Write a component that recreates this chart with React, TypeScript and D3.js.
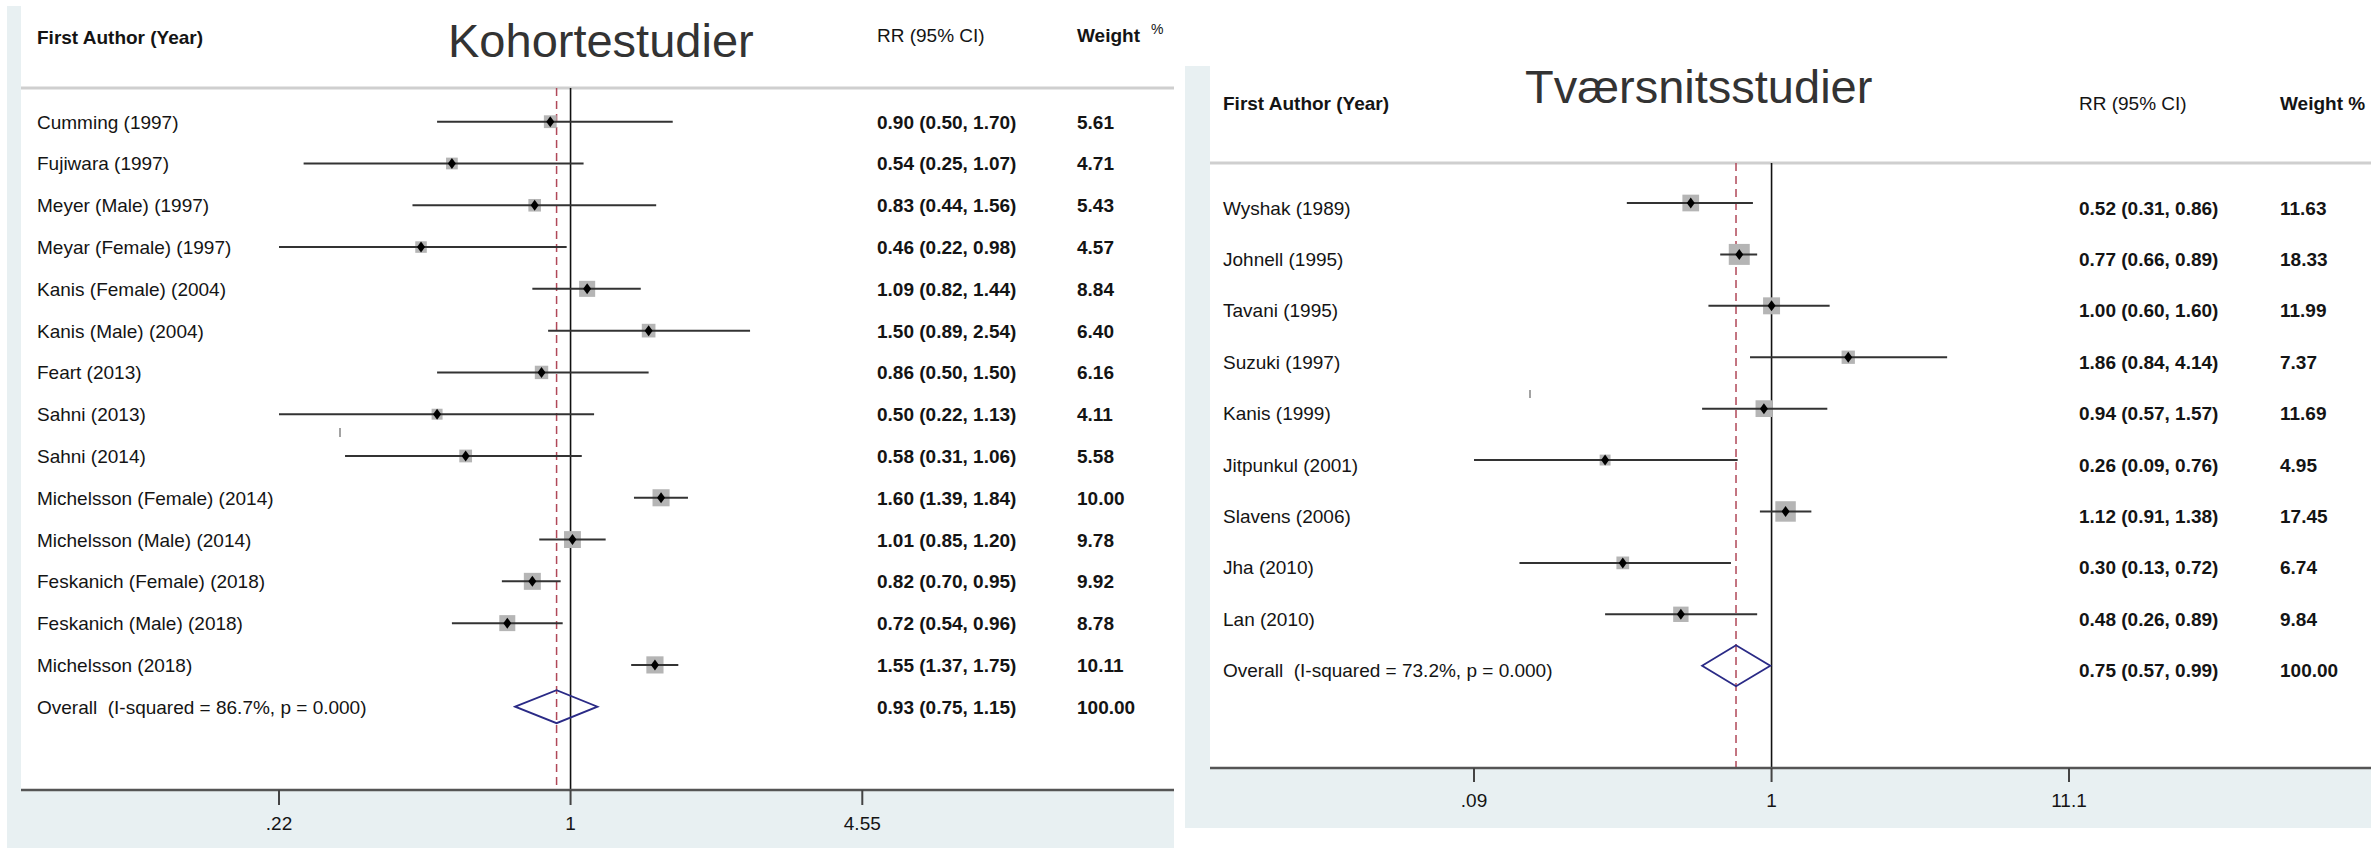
import React from "react";
import * as d3 from "d3";

// ---------- Data: Kohortestudier ----------
const cohortTitle = "Kohortestudier";
const cohortStudies = [
  "Cumming (1997)", "Fujiwara (1997)", "Meyer (Male) (1997)", "Meyar (Female) (1997)",
  "Kanis (Female) (2004)", "Kanis (Male) (2004)", "Feart (2013)", "Sahni (2013)",
  "Sahni (2014)", "Michelsson (Female) (2014)", "Michelsson (Male) (2014)",
  "Feskanich (Female) (2018)", "Feskanich (Male) (2018)", "Michelsson (2018)",
];
const cohortRR = [0.90, 0.54, 0.83, 0.46, 1.09, 1.50, 0.86, 0.50, 0.58, 1.60, 1.01, 0.82, 0.72, 1.55];
const cohortLo = [0.50, 0.25, 0.44, 0.22, 0.82, 0.89, 0.50, 0.22, 0.31, 1.39, 0.85, 0.70, 0.54, 1.37];
const cohortHi = [1.70, 1.07, 1.56, 0.98, 1.44, 2.54, 1.50, 1.13, 1.06, 1.84, 1.20, 0.95, 0.96, 1.75];
const cohortWeight = [5.61, 4.71, 5.43, 4.57, 8.84, 6.40, 6.16, 4.11, 5.58, 10.00, 9.78, 9.92, 8.78, 10.11];
const cohortOverall = { label: "Overall  (I-squared = 86.7%, p = 0.000)", rr: 0.93, lo: 0.75, hi: 1.15, weight: 100.0 };
const cohortTicks = [0.22, 1, 4.55];
const cohortTickLabels = [".22", "1", "4.55"];

// ---------- Data: Tværsnitsstudier ----------
const crossTitle = "Tværsnitsstudier";
const crossStudies = [
  "Wyshak (1989)", "Johnell (1995)", "Tavani (1995)", "Suzuki (1997)", "Kanis (1999)",
  "Jitpunkul (2001)", "Slavens (2006)", "Jha (2010)", "Lan (2010)",
];
const crossRR = [0.52, 0.77, 1.00, 1.86, 0.94, 0.26, 1.12, 0.30, 0.48];
const crossLo = [0.31, 0.66, 0.60, 0.84, 0.57, 0.09, 0.91, 0.13, 0.26];
const crossHi = [0.86, 0.89, 1.60, 4.14, 1.57, 0.76, 1.38, 0.72, 0.89];
const crossWeight = [11.63, 18.33, 11.99, 7.37, 11.69, 4.95, 17.45, 6.74, 9.84];
const crossOverall = { label: "Overall  (I-squared = 73.2%, p = 0.000)", rr: 0.75, lo: 0.57, hi: 0.99, weight: 100.0 };
const crossTicks = [0.09, 1, 11.1];
const crossTickLabels = [".09", "1", "11.1"];

const FONT = "'Liberation Sans', Arial, Helvetica, sans-serif";
const BG = "#e8f0f2";
const TXT = "#141414";

type PanelProps = {
  title: string;
  studies: string[];
  rr: number[];
  lo: number[];
  hi: number[];
  weight: number[];
  overall: { label: string; rr: number; lo: number; hi: number; weight: number };
  ticks: number[];
  tickLabels: string[];
  layout: {
    frameX: number; frameY: number; frameR: number; frameB: number;
    innerX: number; axisY: number; headerLineY: number;
    xRange: [number, number];
    rowFirst: number; rowLast: number;
    labelX: number; rrX: number; wX: number;
    headerY: number; rrHeaderY: number; wHeaderY: number;
    titleX: number; titleY: number;
    boxK: number; tickLabelY: number; tickLen: number;
    splitPercent: boolean;
    stray: [number, number, number];
    textDy: number; diamondH: number;
  };
};

function Panel(p: PanelProps) {
  const L = p.layout;
  const x = d3.scaleLog().domain([p.ticks[0], p.ticks[p.ticks.length - 1]]).range(L.xRange);
  const n = p.studies.length;
  const y = d3.scaleLinear().domain([0, n]).range([L.rowFirst, L.rowLast]);
  const fmt = d3.format(".2f");
  const ciText = (r: number, a: number, b: number) => `${fmt(r)} (${fmt(a)}, ${fmt(b)})`;
  const oy = y(n);
  const ox = x(p.overall.rr);
  const dh = L.diamondH;
  const diamond = `M${x(p.overall.lo)},${oy} L${ox},${oy - dh} L${x(p.overall.hi)},${oy} L${ox},${oy + dh} Z`;
  const td = L.textDy;

  return (
    <g fontFamily={FONT}>
      <rect x={L.frameX} y={L.frameY} width={L.frameR - L.frameX} height={L.frameB - L.frameY} fill={BG} />
      <rect x={L.innerX} y={L.frameY} width={L.frameR - L.innerX} height={L.axisY - L.frameY} fill="#ffffff" />
      {/* header line */}
      <line x1={L.innerX} x2={L.frameR} y1={L.headerLineY} y2={L.headerLineY} stroke="#cfcfcf" strokeWidth={3} />
      {/* headers */}
      <text x={L.labelX} y={L.headerY} fontSize={19} fontWeight="bold" fill={TXT}>First Author (Year)</text>
      <text x={L.rrX} y={L.rrHeaderY} fontSize={19} fill={TXT}>RR (95% CI)</text>
      {L.splitPercent ? (
        <g>
          <text x={L.wX} y={L.wHeaderY} fontSize={19} fontWeight="bold" fill={TXT}>Weight</text>
          <text x={L.wX + 74} y={L.wHeaderY - 8} fontSize={14} fill={TXT}>%</text>
        </g>
      ) : (
        <text x={L.wX} y={L.wHeaderY} fontSize={19} fontWeight="bold" fill={TXT}>Weight %</text>
      )}
      <text x={L.titleX} y={L.titleY} fontSize={47} fill="#333333">{p.title}</text>

      {/* reference lines */}
      <line x1={x(1)} x2={x(1)} y1={L.headerLineY} y2={L.axisY} stroke="#111" strokeWidth={1.6} />
      <line x1={ox} x2={ox} y1={L.headerLineY} y2={L.axisY} stroke="#b04858" strokeWidth={1.5} strokeDasharray="8,5" />

      {/* studies */}
      {p.studies.map((s, i) => {
        const cy = y(i);
        const side = L.boxK * Math.sqrt(p.weight[i]);
        const cx = x(p.rr[i]);
        return (
          <g key={s}>
            <text x={L.labelX} y={cy + td} fontSize={19} fill={TXT}>{s}</text>
            <rect x={cx - side / 2} y={cy - side / 2} width={side} height={side} fill="#b5b5b5" />
            <line x1={x(p.lo[i])} x2={x(p.hi[i])} y1={cy} y2={cy} stroke="#333" strokeWidth={2} />
            <path d={`M${cx - 4},${cy} L${cx},${cy - 5.5} L${cx + 4},${cy} L${cx},${cy + 5.5} Z`} fill="#000" />
            <text x={L.rrX} y={cy + td} fontSize={19} fontWeight="bold" fill={TXT}>{ciText(p.rr[i], p.lo[i], p.hi[i])}</text>
            <text x={L.wX} y={cy + td} fontSize={19} fontWeight="bold" fill={TXT}>{fmt(p.weight[i])}</text>
          </g>
        );
      })}

      {/* overall */}
      <text x={L.labelX} y={oy + td} fontSize={19} fill={TXT} style={{ whiteSpace: "pre" }}>{p.overall.label}</text>
      <path d={diamond} fill="none" stroke="#2a2a86" strokeWidth={1.8} />
      <text x={L.rrX} y={oy + td} fontSize={19} fontWeight="bold" fill={TXT}>{ciText(p.overall.rr, p.overall.lo, p.overall.hi)}</text>
      <text x={L.wX} y={oy + td} fontSize={19} fontWeight="bold" fill={TXT}>{fmt(p.overall.weight)}</text>

      {/* stray mark */}
      <line x1={L.stray[0]} x2={L.stray[0]} y1={L.stray[1]} y2={L.stray[2]} stroke="#666" strokeWidth={1.2} />

      {/* axis */}
      <line x1={L.innerX} x2={L.frameR} y1={L.axisY} y2={L.axisY} stroke="#555" strokeWidth={2.5} />
      {p.ticks.map((t, i) => (
        <g key={t}>
          <line x1={x(t)} x2={x(t)} y1={L.axisY} y2={L.axisY + L.tickLen} stroke="#444" strokeWidth={2} />
          <text x={x(t)} y={L.tickLabelY} fontSize={19} textAnchor="middle" fill={TXT}>{p.tickLabels[i]}</text>
        </g>
      ))}
    </g>
  );
}

export default function App() {
  return (
    <svg width={2371} height={848} style={{ position: "absolute", left: 0, top: 0, background: "#fff" }}>
      <rect x={0} y={0} width={2371} height={848} fill="#fff" />
      <Panel
        title={cohortTitle}
        studies={cohortStudies}
        rr={cohortRR}
        lo={cohortLo}
        hi={cohortHi}
        weight={cohortWeight}
        overall={cohortOverall}
        ticks={cohortTicks}
        tickLabels={cohortTickLabels}
        layout={{
          frameX: 7, frameY: 6, frameR: 1174, frameB: 848,
          innerX: 21, axisY: 790, headerLineY: 88,
          xRange: [279, 862.3],
          rowFirst: 121.7, rowLast: 706.7,
          labelX: 37, rrX: 877, wX: 1077,
          headerY: 44, rrHeaderY: 42, wHeaderY: 42,
          titleX: 448, titleY: 57,
          boxK: 5.4, tickLabelY: 830, tickLen: 15,
          splitPercent: true,
          stray: [340, 428, 437],
          textDy: 7, diamondH: 16.5,
        }}
      />
      <Panel
        title={crossTitle}
        studies={crossStudies}
        rr={crossRR}
        lo={crossLo}
        hi={crossHi}
        weight={crossWeight}
        overall={crossOverall}
        ticks={crossTicks}
        tickLabels={crossTickLabels}
        layout={{
          frameX: 1185, frameY: 66, frameR: 2371, frameB: 828,
          innerX: 1210, axisY: 768, headerLineY: 163,
          xRange: [1474, 2069],
          rowFirst: 203, rowLast: 665.7,
          labelX: 1223, rrX: 2079, wX: 2280,
          headerY: 110, rrHeaderY: 110, wHeaderY: 110,
          titleX: 1525, titleY: 103,
          boxK: 4.9, tickLabelY: 807, tickLen: 14,
          splitPercent: false,
          stray: [1530, 390, 398],
          textDy: 11.5, diamondH: 20.5,
        }}
      />
    </svg>
  );
}
